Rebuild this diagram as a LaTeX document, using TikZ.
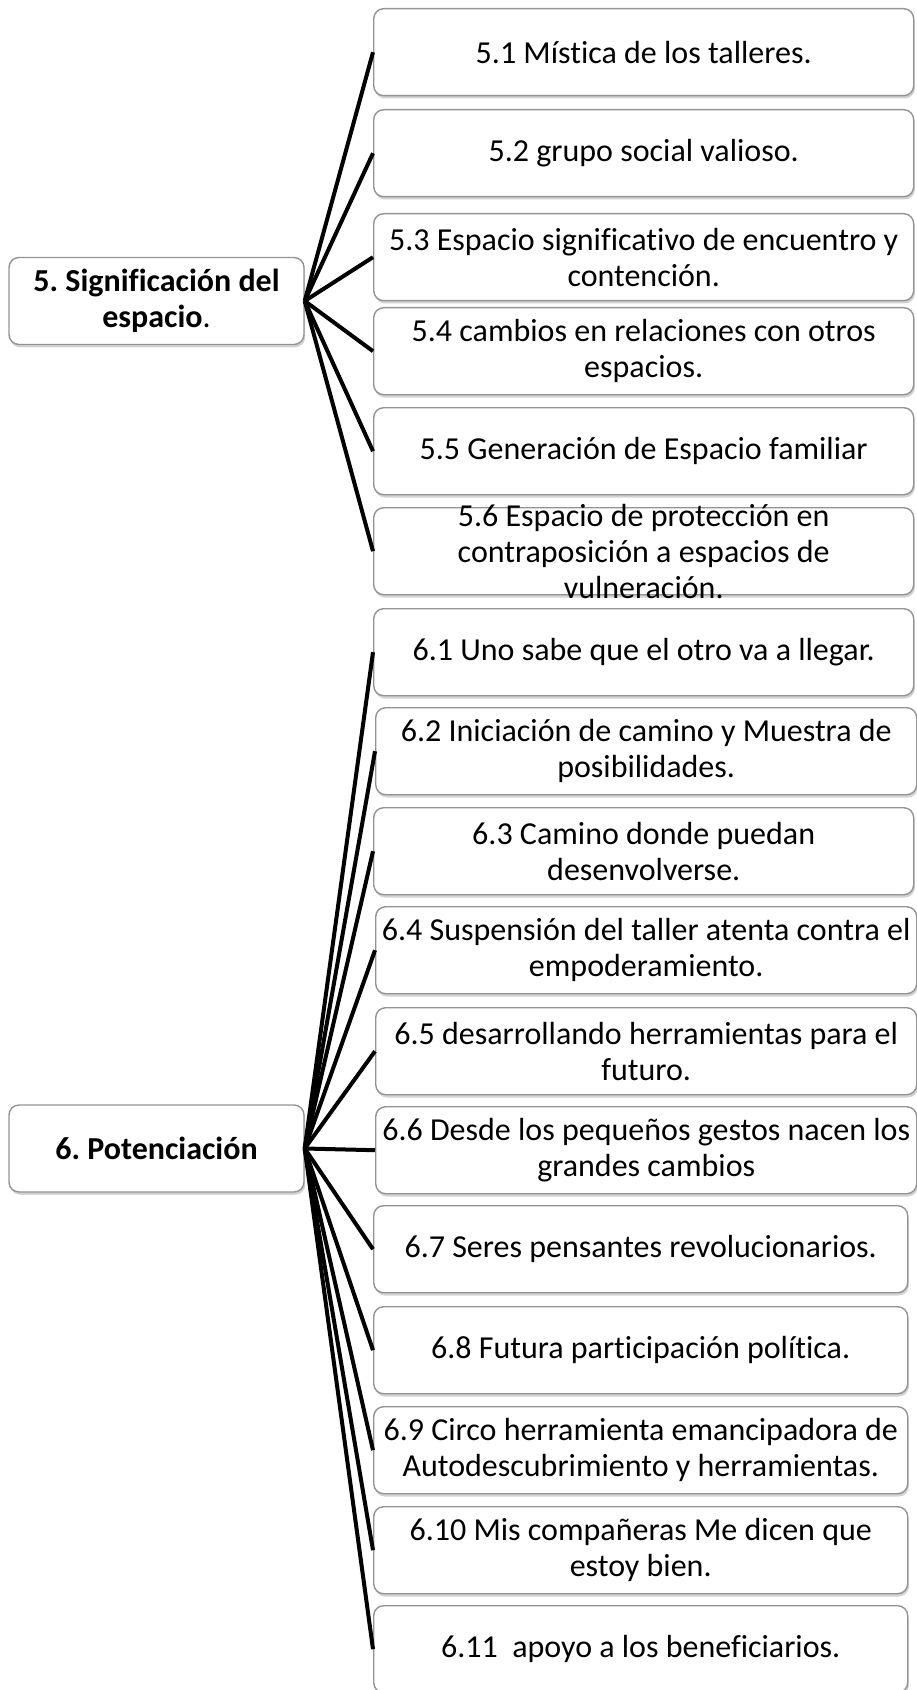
\documentclass[tikz,border=0pt]{standalone}
\usepackage{fontspec}
\setmainfont{Carlito}[Ligatures={NoCommon}]
\usetikzlibrary{shadows}

\tikzset{
  box/.style={draw=gray!85, line width=0.7pt, fill=white, rounded corners=5pt,
    align=center, inner sep=2pt, font=\fontsize{16}{18}\selectfont,
    drop shadow={shadow xshift=0.6pt, shadow yshift=-1.4pt, opacity=0.35}},
  hubbox/.style={box, font=\fontsize{16}{18}\selectfont\bfseries,
    minimum width=147.5pt, minimum height=43.5pt},
  leafbox/.style={box, anchor=north west, minimum height=43.5pt},
  spoke/.style={line width=2pt, black},
}

\begin{document}
\frenchspacing
\begin{tikzpicture}[x=0.5pt, y=-0.5pt]
  \useasboundingbox (0,0) rectangle (916,1690);

  % main categories
  \node[hubbox] (s5) at (156.5,301) {5. Significaci\'on del\\espacio{\mdseries.}};
  \node[hubbox] (s6) at (156.5,1148.5) {6. Potenciaci\'on};

  % subcategories
  \foreach \n/\x/\y/\w/\txt in {
      51/373/8/270/{5.1 Mística de los talleres.},
      52/373/109/270/{5.2 grupo social valioso.},
      53/373/213/270/{5.3 Espacio significativo de encuentro y\\contención.},
      54/373/307/270/{5.4 cambios en relaciones con otros\\espacios.},
      55/373/407/270/{5.5 Generación de Espacio familiar},
      61/373/608/270/{6.1 Uno sabe que el otro va a llegar.},
      62/375/707/270.5/{6.2 Iniciación de camino y Muestra de\\posibilidades.},
      63/373/807/270/{6.3 Camino donde puedan\\desenvolverse.},
      64/375/906/270.5/{6.4 Suspensión del taller atenta contra el\\empoderamiento.},
      65/375/1007/270.5/{6.5 desarrollando herramientas para el\\futuro.},
      66/375/1106/270.5/{6.6 Desde los pequeños gestos nacen los\\grandes cambios},
      67/373/1205/267/{6.7 Seres pensantes revolucionarios.},
      68/373/1306/267/{6.8 Futura participación política.},
      69/373/1406/267/{6.9 Circo herramienta emancipadora de\\Autodescubrimiento y herramientas.},
      610/373/1506/267/{6.10 Mis compañeras Me dicen que\\estoy bien.},
      611/373/1605/267/{6.11~ apoyo a los beneficiarios.}}
    \node[leafbox, minimum width=\w pt] (l\n) at (\x,\y) {\txt};

  % 5.6 text runs over its box
  \node[leafbox, minimum width=270pt] (l56) at (373,507) {};
  \node[align=center, font=\fontsize{16}{18}\selectfont] (t56) at (l56.center)
    {5.6 Espacio de protección en\\contraposición a espacios de\\vulneración.};

  % connectors
  \foreach \n in {51,...,56}
    \draw[spoke] (s5.east) -- (l\n.west);
  \foreach \n in {61,...,69,610,611}
    \draw[spoke] (s6.east) -- (l\n.west);
\end{tikzpicture}
\end{document}
